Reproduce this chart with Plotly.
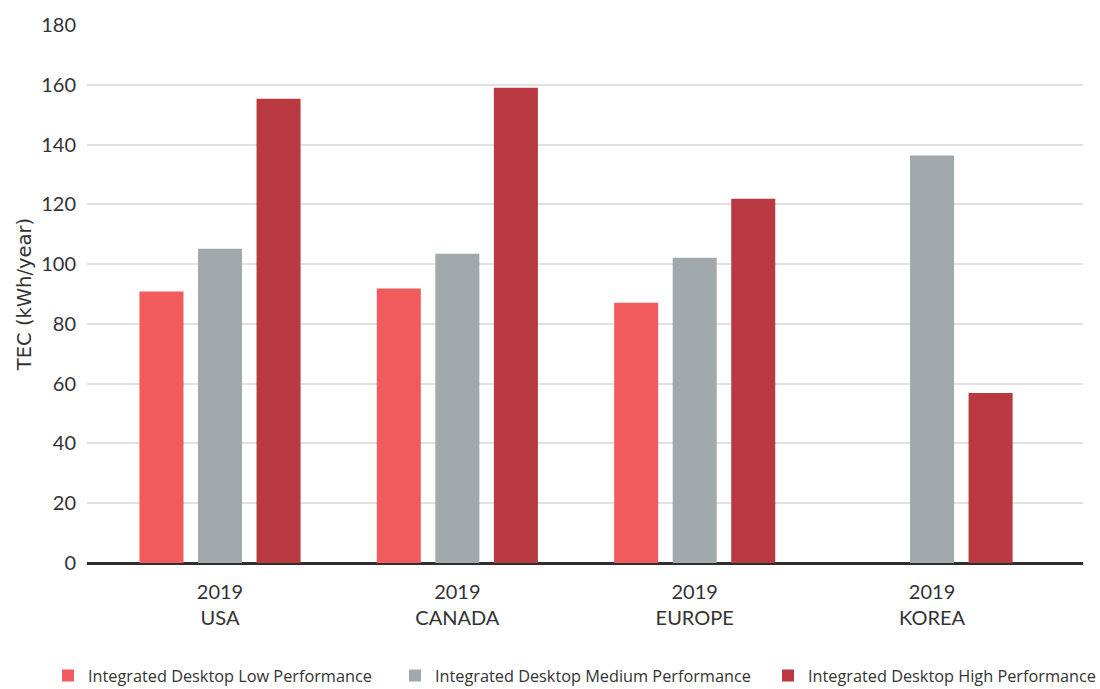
import plotly.graph_objects as go

categories = ["2019<br>USA", "2019<br>CANADA", "2019<br>EUROPE", "2019<br>KOREA"]
series_names = [
    "Integrated Desktop Low Performance",
    "Integrated Desktop Medium Performance",
    "Integrated Desktop High Performance",
]
low_values = [90.8, 91.8, 87.1, None]
medium_values = [105.1, 103.5, 102.1, 136.3]
high_values = [155.3, 159.0, 121.9, 56.9]
y_ticks = [0, 20, 40, 60, 80, 100, 120, 140, 160, 180]

colors = ["#F15B5D", "#A2A9AC", "#B83A40"]
FONT = "Lato"
FONT2 = "Open Sans"
TEXT = "#333333"

fig = go.Figure()
legend_ids = ["legend", "legend2", "legend3"]
for name, vals, col, lg in zip(series_names, [low_values, medium_values, high_values], colors, legend_ids):
    fig.add_trace(go.Bar(x=categories, y=vals, name=name, marker_color=col,
                         marker_line_width=0, legend=lg, showlegend=True))

W, H = 1100, 689
ml, mr, mt, mb = 87, 17, 25, 125.5

def cx(px):
    return px / W

def cy(py):
    return (H - py) / H

legend_common = dict(orientation="h", xanchor="left", yanchor="middle",
                     xref="container", yref="container",
                     font=dict(family=FONT2, size=16.3, color=TEXT),
                     bgcolor="rgba(0,0,0,0)", itemsizing="constant",
                     visible=True)
fig.update_layout(
    width=W, height=H,
    showlegend=True,
    margin=dict(l=ml, r=mr, t=mt, b=mb, autoexpand=False),
    paper_bgcolor="white", plot_bgcolor="white",
    barmode="group", bargap=0.26, bargroupgap=0.248,
    font=dict(family=FONT, color=TEXT),
    legend=dict(x=cx(48), y=cy(676), **legend_common),
    legend2=dict(x=cx(395), y=cy(676), **legend_common),
    legend3=dict(x=cx(768), y=cy(676), **legend_common),
    xaxis=dict(
        range=[-0.5604, 3.636],
        showgrid=False, showline=False, zeroline=False,
        tickfont=dict(family=FONT, size=20, color=TEXT),
        ticks="", ticklabelstandoff=15,
    ),
    yaxis=dict(
        range=[0, 180], tickvals=y_ticks,
        showgrid=True, gridcolor="#E1E1E1", gridwidth=2,
        zeroline=True, zerolinecolor="#2F2F2F", zerolinewidth=3,
        showline=False,
        tickfont=dict(family=FONT, size=20, color=TEXT),
        ticks="", ticklabelstandoff=10,
        title=dict(text="TEC (kWh/year)", font=dict(family="DejaVu Sans", size=19.5, color=TEXT), standoff=4),
    ),
)

fig.write_html("out.html")
